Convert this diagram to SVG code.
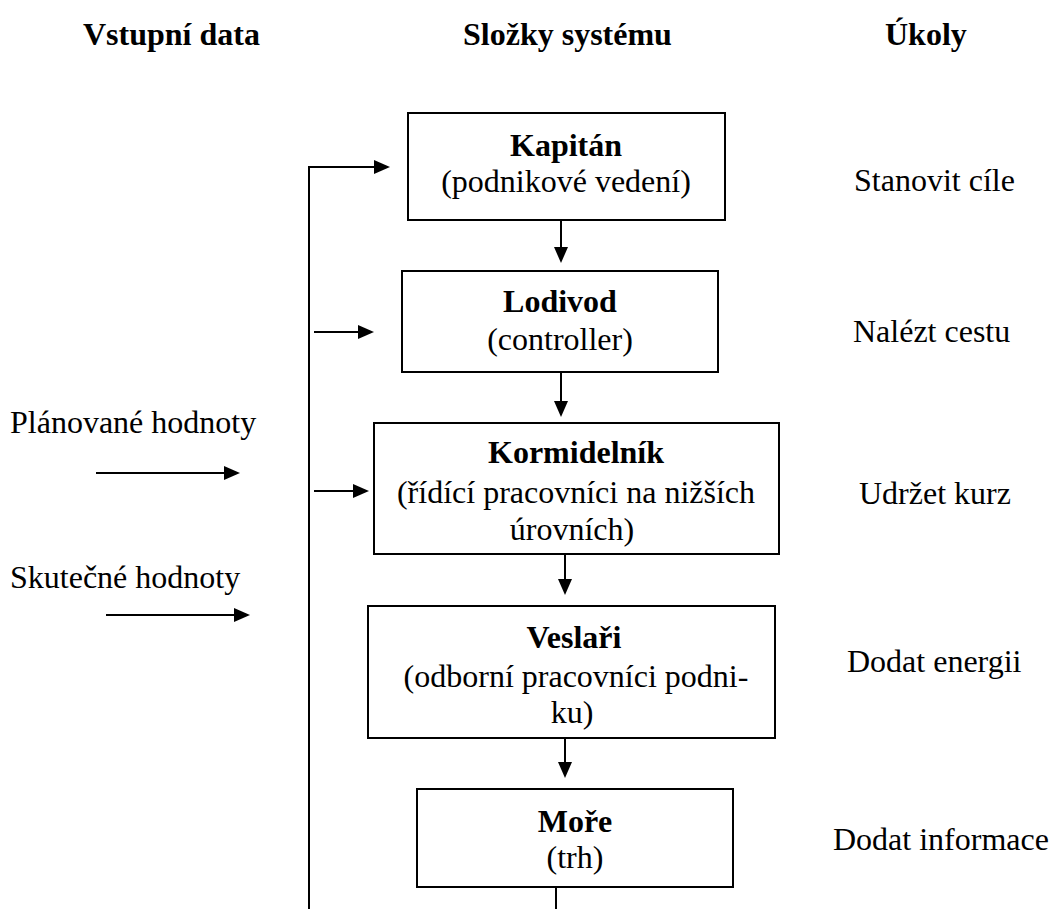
<svg xmlns="http://www.w3.org/2000/svg" width="1051" height="909" viewBox="0 0 1051 909">
  <style>
    text { font-family: "Liberation Serif", "Times New Roman", serif; font-size: 32px; fill: #000; }
    .b { font-weight: bold; }
    .c { text-anchor: middle; }
    .box { fill: #fff; stroke: #000; stroke-width: 2; }
    .ln { fill: none; stroke: #000; stroke-width: 2; }
  </style>
  <defs>
    <marker id="arrow" viewBox="0 0 16 14" refX="6" refY="7" markerWidth="16" markerHeight="14" markerUnits="userSpaceOnUse" orient="auto">
      <path d="M0,0 L16,7 L0,14 z" fill="#000"/>
    </marker>
  </defs>

  <rect width="1051" height="909" fill="#fff"/>

  <!-- column headings -->
  <g id="headings">
    <text class="b" x="83" y="45">Vstupní data</text>
    <text class="b" x="463" y="45">Složky systému</text>
    <text class="b" x="885" y="45">Úkoly</text>
  </g>

  <!-- input labels -->
  <g id="inputs">
    <text x="10" y="433">Plánované hodnoty</text>
    <text x="10" y="588">Skutečné hodnoty</text>
  </g>

  <!-- system components -->
  <g id="kapitan">
    <rect class="box" x="408" y="113" width="317" height="107"/>
    <text class="b c" x="566" y="156">Kapitán</text>
    <text class="c" x="566" y="192">(podnikové vedení)</text>
  </g>
  <g id="lodivod">
    <rect class="box" x="402" y="271" width="316" height="101"/>
    <text class="b c" x="560" y="312">Lodivod</text>
    <text class="c" x="560" y="350">(controller)</text>
  </g>
  <g id="kormidelnik">
    <rect class="box" x="374" y="423" width="405" height="131"/>
    <text class="b c" x="576" y="463">Kormidelník</text>
    <text class="c" x="576" y="503">(řídící pracovníci na nižších</text>
    <text class="c" x="572" y="540">úrovních)</text>
  </g>
  <g id="veslari">
    <rect class="box" x="368" y="606" width="407" height="132"/>
    <text class="b c" x="574" y="648">Veslaři</text>
    <text class="c" x="576" y="687">(odborní pracovníci podni-</text>
    <text class="c" x="572" y="723">ku)</text>
  </g>
  <g id="more">
    <rect class="box" x="417" y="789" width="316" height="98"/>
    <text class="b c" x="575" y="832">Moře</text>
    <text class="c" x="575" y="868">(trh)</text>
  </g>

  <!-- tasks -->
  <g id="tasks">
    <text x="854" y="191">Stanovit cíle</text>
    <text x="853" y="342">Nalézt cestu</text>
    <text x="859" y="504">Udržet kurz</text>
    <text x="847" y="672">Dodat energii</text>
    <text x="833" y="850">Dodat informace</text>
  </g>

  <!-- connectors -->
  <g id="connectors">
    <path class="ln" d="M561,220 V253" marker-end="url(#arrow)"/>
    <path class="ln" d="M561,372 V407" marker-end="url(#arrow)"/>
    <path class="ln" d="M565,554 V585" marker-end="url(#arrow)"/>
    <path class="ln" d="M565,738 V768" marker-end="url(#arrow)"/>
    <path class="ln" d="M556,887 V909"/>
    <path class="ln" d="M309,909 V167 H380" marker-end="url(#arrow)"/>
    <path class="ln" d="M314,332 H364" marker-end="url(#arrow)"/>
    <path class="ln" d="M314,491 H359" marker-end="url(#arrow)"/>
    <path class="ln" d="M96,473 H230" marker-end="url(#arrow)"/>
    <path class="ln" d="M106,615 H240" marker-end="url(#arrow)"/>
  </g>
</svg>
